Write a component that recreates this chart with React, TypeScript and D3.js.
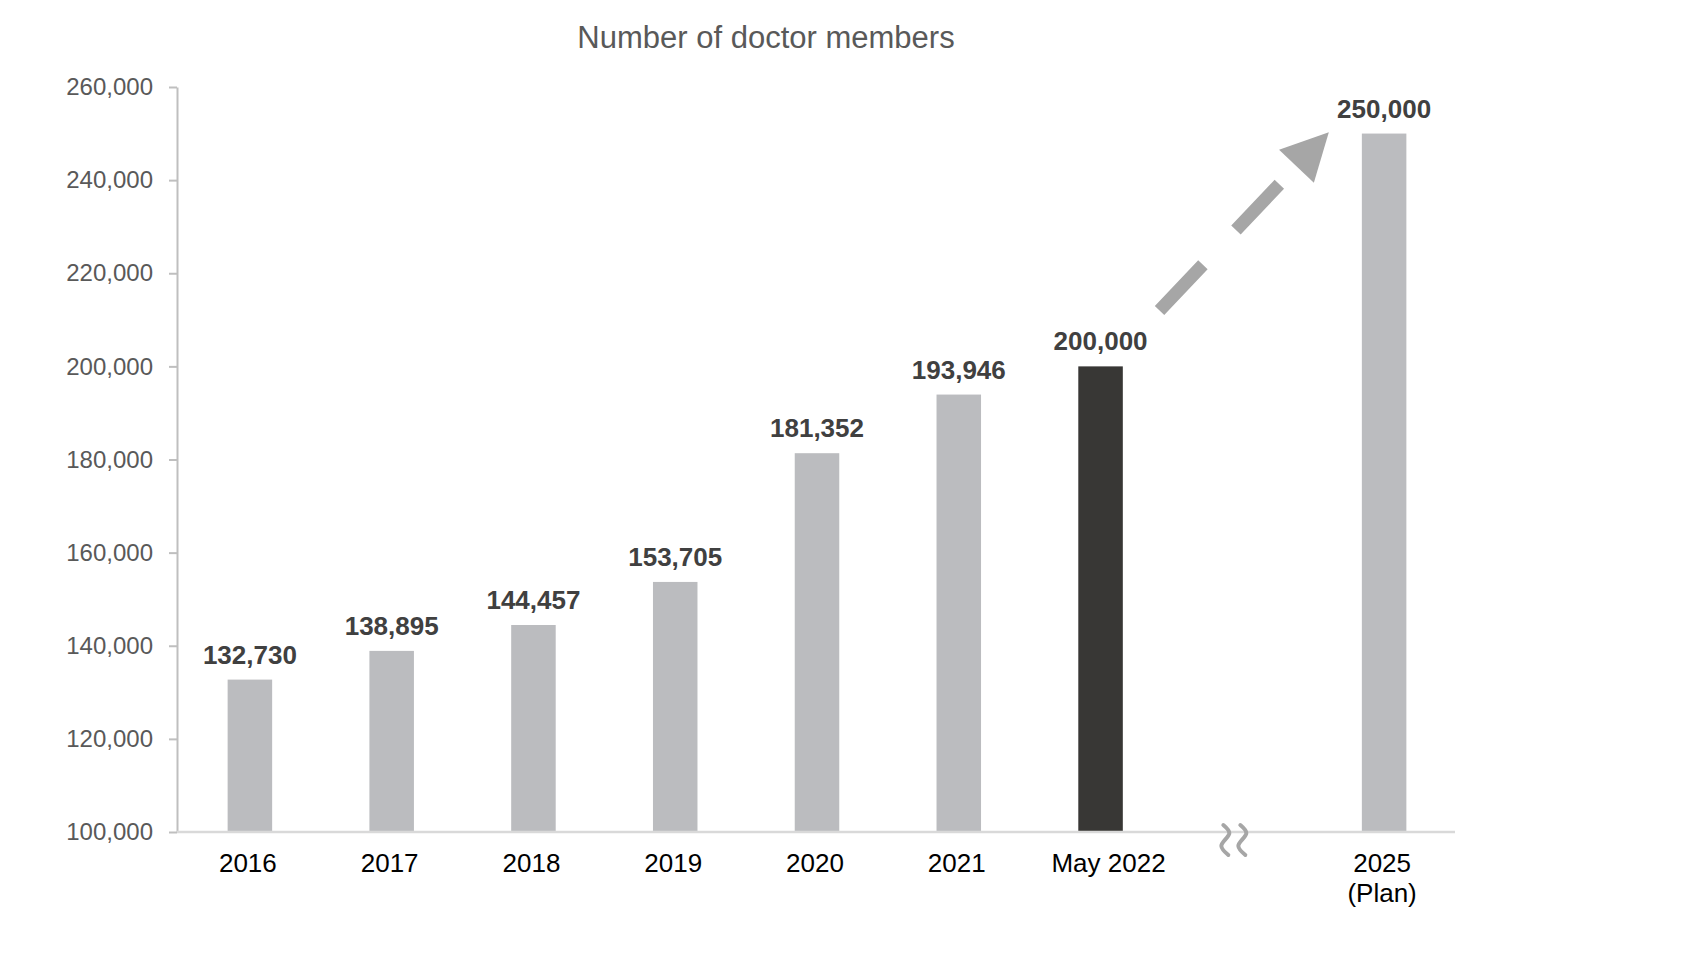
import React, { useEffect, useRef } from 'react'
import * as d3 from 'd3'

// data
const categories = ["2016", "2017", "2018", "2019", "2020", "2021", "May 2022", "2025"];
const values = [132730, 138895, 144457, 153705, 181352, 193946, 200000, 250000];
const xLabelLines = [["2016"], ["2017"], ["2018"], ["2019"], ["2020"], ["2021"], ["May 2022"], ["2025", "(Plan)"]];
const slots = ["2016", "2017", "2018", "2019", "2020", "2021", "May 2022", "break", "2025"];
const yTicks = [100000, 120000, 140000, 160000, 180000, 200000, 220000, 240000, 260000];
const highlight = "May 2022";
const title = "Number of doctor members";

const W = 1704, H = 955;
const FONT = "'Liberation Sans', Arial, sans-serif";

const App = () => {
  const ref = useRef<SVGSVGElement>(null);

  useEffect(() => {
    const svg = d3.select(ref.current);
    svg.selectAll("*").remove();

    const x = d3.scaleBand().domain(slots).range([179, 1455]).paddingInner(0.686).paddingOuter(0.343);
    const y = d3.scaleLinear().domain([100000, 260000]).range([832, 87]);
    const step = x.step();
    const xc = (c: string) => (x(c) as number) + x.bandwidth() / 2;

    // title
    svg.append("text")
      .attr("x", 766).attr("y", 48)
      .attr("text-anchor", "middle")
      .style("font-family", FONT).style("font-size", "31px")
      .style("fill", "#595959")
      .text(title);

    // y axis
    const yAxis = d3.axisLeft(y).tickValues(yTicks).tickFormat(d3.format(",")).tickSize(8).tickSizeOuter(0).tickPadding(16);
    const gy = svg.append("g").attr("transform", "translate(177,0)").call(yAxis);
    gy.select(".domain").attr("stroke", "#BFBFBF").attr("stroke-width", 2);
    gy.selectAll(".tick line").attr("stroke", "#BFBFBF").attr("stroke-width", 2);
    gy.selectAll(".tick text")
      .style("font-family", FONT).style("font-size", "24px")
      .attr("fill", "#595959");

    // bars
    svg.append("g").selectAll("rect")
      .data(categories)
      .join("rect")
      .attr("x", d => x(d) as number)
      .attr("width", x.bandwidth())
      .attr("y", (d, i) => y(values[i]))
      .attr("height", (d, i) => y(100000) - y(values[i]))
      .attr("fill", d => d === highlight ? "#383735" : "#BBBCBF");

    // x axis line
    svg.append("line")
      .attr("x1", 177).attr("x2", 1455)
      .attr("y1", y(100000)).attr("y2", y(100000))
      .attr("stroke", "#D9D9D9").attr("stroke-width", 2.5);

    // value labels
    svg.append("g").selectAll("text")
      .data(categories)
      .join("text")
      .attr("x", d => xc(d))
      .attr("y", (d, i) => y(values[i]) - 16)
      .attr("text-anchor", "middle")
      .style("font-family", FONT).style("font-size", "26px").style("font-weight", "bold")
      .attr("fill", "#404040")
      .text((d, i) => d3.format(",")(values[i]));

    // category labels
    const xl = svg.append("g").selectAll("text")
      .data(categories)
      .join("text")
      .attr("x", d => xc(d) + (d === "May 2022" ? 8 : -2))
      .attr("y", y(100000) + 40)
      .attr("text-anchor", "middle")
      .style("font-family", FONT).style("font-size", "26px")
      .attr("fill", "#000");
    xl.selectAll("tspan")
      .data((d, i) => xLabelLines[i])
      .join("tspan")
      .attr("x", function () { return (this.parentNode as SVGTextElement).getAttribute("x") })
      .attr("dy", (d, i) => i === 0 ? 0 : 30)
      .text(d => d);

    // axis break squiggles
    const squig = d3.line().curve(d3.curveCatmullRom);
    const sqPts: [number, number][] = [[0, -15], [6, -7], [-2, 6], [5, 15]];
    [-17, 0].forEach(off => {
      svg.append("path")
        .attr("transform", `translate(${xc("break") + off - 2},${y(100000) + 8})`)
        .attr("d", squig(sqPts))
        .attr("fill", "none")
        .attr("stroke", "#A6A6A6").attr("stroke-width", 4).attr("stroke-linecap", "round");
    });

    // dashed growth arrow from May 2022 toward 2025
    const x0 = xc("May 2022") + 0.416 * step, y0 = y(212000);
    const x1 = xc("2025") - 0.39 * step, y1 = y(250300);
    const len = Math.hypot(x1 - x0, y1 - y0);
    const ux = (x1 - x0) / len, uy = (y1 - y0) / len;
    const headLen = 47, headHalf = 24;
    const bx = x1 - ux * headLen, by = y1 - uy * headLen;
    svg.append("line")
      .attr("x1", x0).attr("y1", y0).attr("x2", bx).attr("y2", by)
      .attr("stroke", "#A6A6A6").attr("stroke-width", 13)
      .attr("stroke-dasharray", "63,48");
    svg.append("polygon")
      .attr("points", [
        [x1, y1],
        [bx - uy * headHalf, by + ux * headHalf],
        [bx + uy * headHalf, by - ux * headHalf],
      ].map(p => p.join(",")).join(" "))
      .attr("fill", "#A6A6A6");
  }, []);

  return (
    <div style={{ position: "absolute", left: 0, top: 0, background: "#fff" }}>
      <svg ref={ref} width={W} height={H} style={{ display: "block", background: "#fff" }} />
    </div>
  );
}

export default App
